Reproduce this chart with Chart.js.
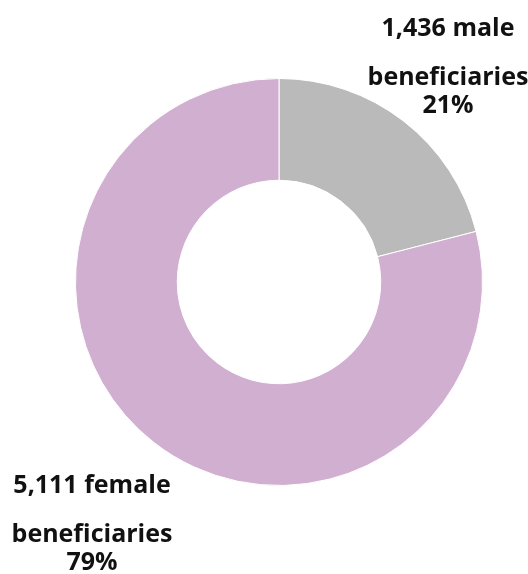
<!DOCTYPE html>
<html>
<head>
<meta charset="utf-8">
<script src="https://cdn.jsdelivr.net/npm/chart.js@4"></script>
<style>
  html, body { margin: 0; padding: 0; background: #fff; }
  #wrap { width: 528px; height: 574px; position: relative; }
</style>
</head>
<body>
<div id="wrap"><canvas id="genderChart"></canvas></div>
<script>
const categories = ["male", "female"];
const counts = [1436, 5111];
const shares = [21, 79];
const colors = ["#bababa", "#d1afd0"];

const labelFont = "bold 25px 'Open Sans', Lato, sans-serif";

const sliceLabels = {
    id: "sliceLabels",
    afterDraw(chart) {
        const ctx = chart.ctx;
        const area = chart.chartArea;
        const spots = [
            { x: area.right - 35, y: area.top - 42, gaps: [0, 49, 77] },
            { x: area.left + 17, y: area.bottom + 7, gaps: [0, 49, 77] }
        ];
        ctx.save();
        ctx.fillStyle = "#111";
        ctx.font = labelFont;
        ctx.textAlign = "center";
        ctx.textBaseline = "alphabetic";
        categories.forEach((cat, i) => {
            const s = spots[i];
            const lines = [
                counts[i].toLocaleString("en-US") + " " + cat,
                "beneficiaries",
                shares[i] + "%"
            ];
            lines.forEach((t, j) => ctx.fillText(t, s.x, s.y + s.gaps[j]));
        });
        ctx.restore();
    }
};

new Chart(document.getElementById("genderChart"), {
    type: "doughnut",
    data: {
        labels: categories,
        datasets: [{
            data: shares,
            backgroundColor: colors,
            borderColor: "#ffffff",
            borderWidth: 1
        }]
    },
    options: {
        responsive: true,
        maintainAspectRatio: false,
        animation: false,
        cutout: "50%",
        layout: { padding: { left: 75, right: 45, top: 78, bottom: 88 } },
        plugins: {
            legend: { display: false },
            tooltip: { enabled: false }
        }
    },
    plugins: [sliceLabels]
});
</script>
</body>
</html>
